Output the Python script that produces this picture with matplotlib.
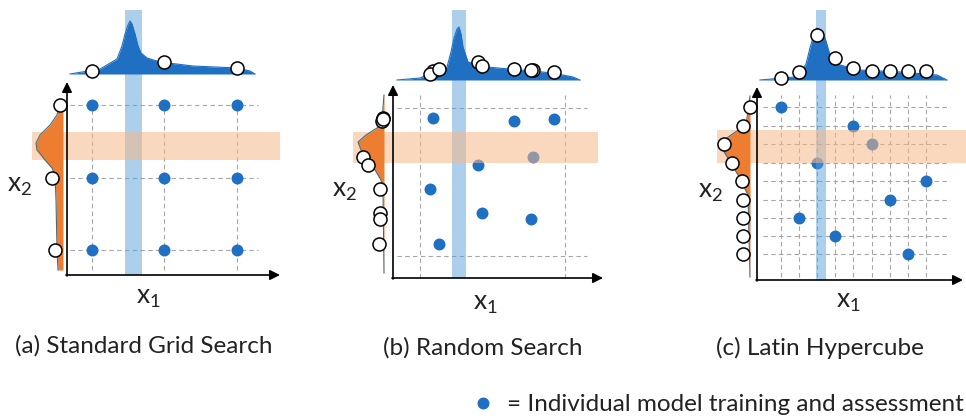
import numpy as np
import matplotlib
matplotlib.use("Agg")
import matplotlib.pyplot as plt
from matplotlib.lines import Line2D

plt.rcParams["font.family"] = ["Lato", "DejaVu Sans"]
plt.rcParams["mathtext.fontset"] = "custom"
plt.rcParams["mathtext.rm"] = "Lato"
plt.rcParams["mathtext.it"] = "Lato"

W, H = 966, 420
PX = 20.0  # pixels per diagram unit

BLUE = "#1f6fc2"
ORANGE = "#ed7d31"
BAND_BLUE = "#5ba3d9"
BAND_ORANGE = "#f6b88a"
GRID = "#a6a6a6"

# ---- (a) standard grid search ----
grid_levels = [1.25, 4.85, 8.5]
grid_top_h = [0.15, 0.6, 0.3]
grid_left_w = [0.15, 0.55, 0.4]
a_top_x = [0.15, 1.65, 2.5, 2.75, 2.9, 3.05, 3.15, 3.25, 3.4, 3.55, 3.7, 4.0, 4.65, 6.3, 8.5, 9.15, 9.4]
a_top_h = [0.0, 0.25, 0.75, 1.4, 2.0, 2.45, 2.65, 2.5, 2.0, 1.4, 1.05, 0.8, 0.6, 0.4, 0.3, 0.15, 0.0]
a_left_y = [8.6, 8.0, 7.5, 7.0, 6.6, 6.25, 5.75, 5.35, 5.0, 3.75, 1.25, 0.25]
a_left_w = [0.15, 0.3, 0.65, 1.15, 1.35, 1.3, 0.9, 0.55, 0.4, 0.35, 0.3, 0.25]

# ---- (b) random search ----
rand_x = [2.0, 6.05, 8.05, 7.0, 4.25, 1.85, 4.45, 6.9, 2.3]
rand_y = [8.0, 7.85, 7.95, 6.05, 5.65, 4.45, 3.25, 2.95, 1.7]
rand_top_h = [0.45, 0.55, 0.4, 0.5, 0.9, 0.3, 0.7, 0.5, 0.55]
rand_left_w = [0.05, 0.1, 0.05, 1.05, 0.8, 0.2, 0.2, 0.2, 0.25]
rand_box = [1.35, 8.6, 1.1, 8.5]
b_top_x = [0.2, 1.35, 2.7, 2.9, 3.05, 3.2, 3.3, 3.4, 3.5, 3.75, 4.7, 6.35, 8.0, 9.0, 9.35]
b_top_h = [0.0, 0.1, 0.65, 1.4, 2.1, 2.55, 2.65, 2.3, 1.65, 0.9, 0.65, 0.5, 0.35, 0.15, 0.0]
b_left_y = [9.15, 7.9, 7.5, 7.15, 6.8, 6.4, 5.9, 5.4, 4.9, 4.4, 0.25]
b_left_w = [0.0, 0.1, 0.35, 0.9, 1.3, 1.15, 0.8, 0.45, 0.15, 0.05, 0.0]

# ---- (c) latin hypercube ----
lhs_x = [1.2, 4.8, 5.75, 3.0, 8.45, 6.65, 2.1, 3.9, 7.55]
lhs_y = [8.65, 7.7, 6.8, 5.85, 4.95, 4.0, 3.1, 2.2, 1.3]
lhs_top_h = [0.1, 0.6, 0.45, 2.25, 0.45, 0.45, 0.4, 1.1, 0.45]
lhs_left_w = [0.0, 0.35, 1.3, 0.9, 0.4, 0.35, 0.35, 0.35, 0.35]
c_top_x = [0.15, 1.9, 2.15, 2.45, 2.65, 2.85, 3.0, 3.15, 3.4, 3.65, 4.15, 5.15, 7.15, 9.0, 9.5]
c_top_h = [0.0, 0.15, 0.25, 0.8, 1.6, 2.3, 2.6, 2.5, 2.1, 1.25, 0.75, 0.5, 0.4, 0.25, 0.0]
c_left_y = [9.2, 7.75, 7.35, 7.0, 6.75, 6.25, 5.75, 5.25, 4.75, 4.25, 0.15]
c_left_w = [0.0, 0.2, 0.8, 1.3, 1.5, 1.2, 0.9, 0.6, 0.35, 0.1, 0.0]

captions = ["(a) Standard Grid Search", "(b) Random Search", "(c) Latin Hypercube"]
legend_label = "= Individual model training and assessment"

fig = plt.figure(figsize=(W / 100, H / 100), dpi=100)


def panel_axes(ox, oy):
    ax = fig.add_axes([0, 0, 1, 1])
    ax.set_xlim(-ox / PX, (W - ox) / PX)
    ax.set_ylim(-(H - oy) / PX, oy / PX)
    ax.axis("off")
    ax.patch.set_visible(False)
    return ax


def draw_panel(ax, dx, dy, top_base, top_x, top_h, top_cx, top_ch,
               left_base, left_y, left_w, left_cy, left_cw,
               blue_band, orange_band, ax_len, lab_x1, lab_x2, cap_xy, caption):
    # sample points
    ax.plot(dx, dy, "o", color=BLUE, ms=8.6, mec="none", zorder=3)
    # bands
    ax.fill_between(blue_band[:2], 0, blue_band[2], color=BAND_BLUE, alpha=0.5, lw=0, zorder=4)
    ax.fill_betweenx(orange_band[:2], orange_band[2], orange_band[3], color=BAND_ORANGE,
                     alpha=0.55, lw=0, zorder=4)
    # top marginal
    tx = np.array(top_x)
    th = np.array(top_h)
    ax.fill_between(tx, top_base, top_base + th, color=BLUE, lw=0, zorder=5)
    ax.plot(tx, top_base + th, color=BLUE, lw=0.8, zorder=5)
    ax.plot(top_cx, top_base + np.array(top_ch), "o", ms=9.4, mfc="white", mec="black",
            mew=1.1, zorder=6)
    # left marginal
    ly = np.array(left_y)
    lw_ = np.array(left_w)
    ax.fill_betweenx(ly, left_base, left_base - lw_, color=ORANGE, lw=0, zorder=5)
    ax.plot(left_base - lw_, ly, color="#4a6a7a", lw=0.8, zorder=5)
    ax.plot(left_base - np.array(left_cw), left_cy, "o", ms=9.4, mfc="white", mec="black",
            mew=1.1, zorder=6)
    # axes arrows
    kw = dict(arrowstyle="-|>,head_length=0.6,head_width=0.3", color="black", lw=1.2,
              shrinkA=0, shrinkB=0)
    ax.annotate("", xy=(ax_len[0], 0), xytext=(-0.05, 0), arrowprops=kw, zorder=7)
    ax.annotate("", xy=(0, ax_len[1]), xytext=(0, -0.05), arrowprops=kw, zorder=7)
    ax.text(*lab_x1, r"$\mathregular{x_1}$", fontsize=19, ha="center", va="center", color="#222222")
    ax.text(*lab_x2, r"$\mathregular{x_2}$", fontsize=19, ha="center", va="center", color="#222222")
    ax.text(*cap_xy, caption, fontsize=17.5, ha="center", va="center", color="#222222")


def dashed(ax, xs, ys, x_range, y_range):
    for x in xs:
        ax.plot([x, x], y_range, color=GRID, lw=0.8, ls=(0, (4, 3)), zorder=1)
    for y in ys:
        ax.plot(x_range, [y, y], color=GRID, lw=0.8, ls=(0, (4, 3)), zorder=1)


# (a)
ax_a = panel_axes(67, 275)
gx, gy = np.meshgrid(grid_levels, grid_levels)
dashed(ax_a, grid_levels, grid_levels, (0.15, 9.55), (0.25, 8.75))
draw_panel(ax_a, gx.ravel(), gy.ravel(), 10.05, a_top_x, a_top_h, grid_levels, grid_top_h,
           -0.2, a_left_y, a_left_w, grid_levels[::-1], grid_left_w,
           (2.9, 3.75, 13.25), (5.75, 7.15, -1.75, 10.65), (10.65, 9.65),
           (4.05, -1.15), (-2.35, 4.5), (3.85, -3.55), captions[0])

# (b)
ax_b = panel_axes(393, 278)
dashed(ax_b, rand_box[:2], rand_box[2:], (0.2, 9.7), (0.0, 9.15))
draw_panel(ax_b, rand_x, rand_y, 9.9, b_top_x, b_top_h, rand_x, rand_top_h,
           -0.45, b_left_y, b_left_w, rand_y, rand_left_w,
           (2.95, 3.65, 13.4), (5.75, 7.3, -2.0, 10.25), (10.5, 9.65),
           (4.6, -1.25), (-2.4, 4.4), (4.5, -3.5), captions[1])

# (c)
ax_c = panel_axes(757, 280)
dashed(ax_c, sorted(lhs_x), lhs_y, (0.3, 9.65), (0.15, 9.25))
draw_panel(ax_c, lhs_x, lhs_y, 10.0, c_top_x, c_top_h, lhs_x, lhs_top_h,
           -0.35, c_left_y, c_left_w, lhs_y, lhs_left_w,
           (2.95, 3.45, 13.5), (5.85, 7.5, -2.0, 10.45), (10.3, 9.65),
           (4.55, -1.1), (-2.3, 4.4), (3.15, -3.4), captions[2])

fig.legend(handles=[Line2D([], [], marker="o", ls="", color=BLUE, ms=8.6, mec="none")],
           labels=[legend_label], loc="center right", bbox_to_anchor=(0.998, 0.036),
           frameon=False, fontsize=17.5, handlelength=0.8, handletextpad=0.6,
           borderpad=0, borderaxespad=0, labelcolor="#222222")

fig.savefig("out.png", dpi=100)
